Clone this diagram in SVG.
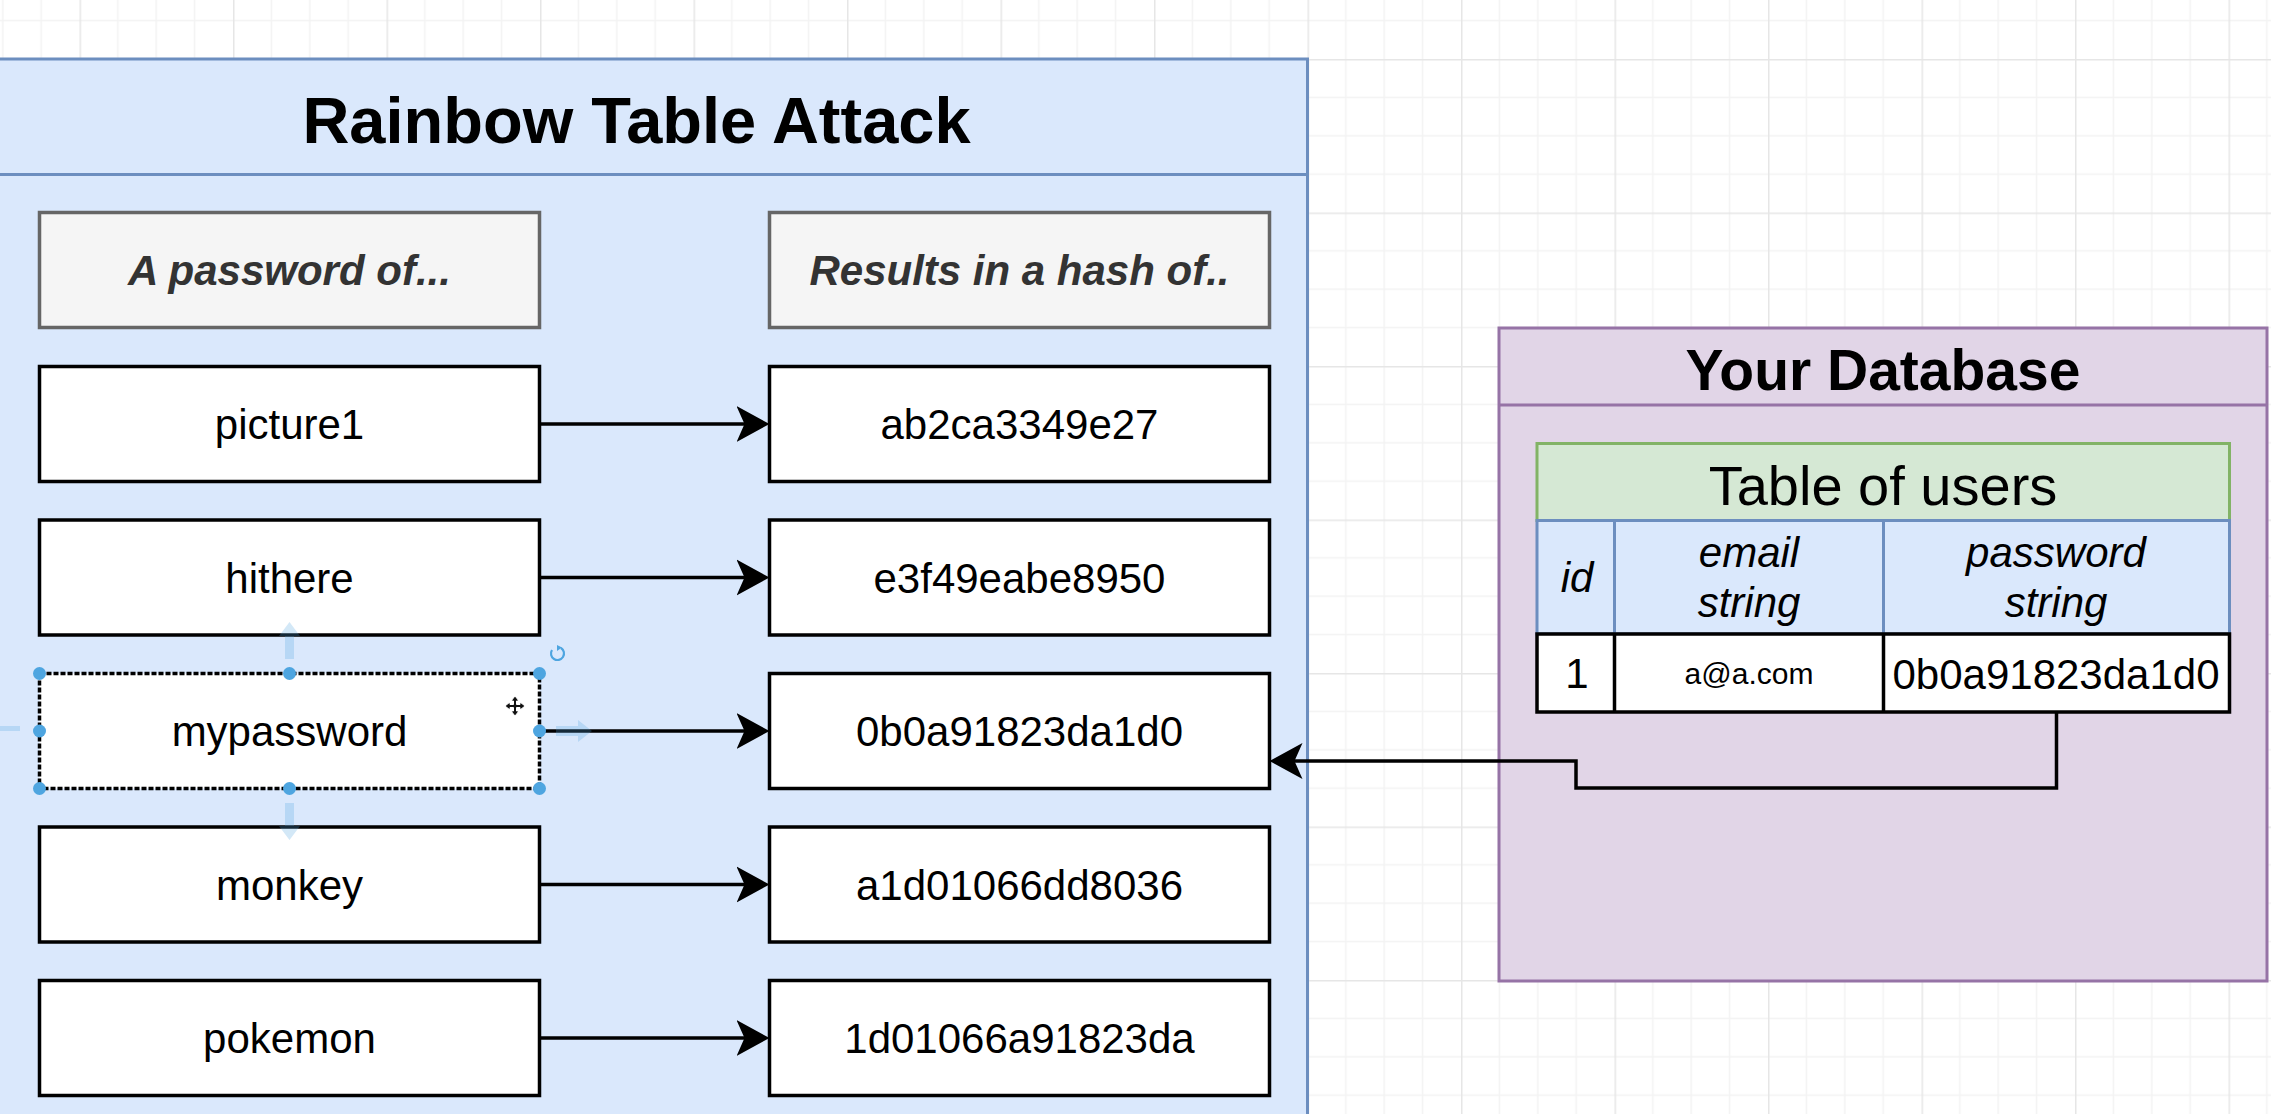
<svg xmlns="http://www.w3.org/2000/svg" width="2271" height="1114" viewBox="0 0 2271 1114">
<style>
  text { font-family: "Liberation Sans", Arial, Helvetica, sans-serif; text-anchor: middle; fill: #000; }
  .title { font-size: 65px; font-weight: bold; }
  .dbtitle { font-size: 57px; font-weight: bold; }
  .hdr { font-size: 42px; font-weight: bold; font-style: italic; fill: #333; }
  .t { font-size: 42px; }
  .tt { font-size: 56px; }
  .col { font-size: 42px; font-style: italic; }
  .small { font-size: 30px; }
  .box { fill: #ffffff; stroke: #000; stroke-width: 3.5; }
  .hbox { fill: #f5f5f5; stroke: #666; stroke-width: 3.5; }
  .blue { fill: #dae8fc; stroke: #6c8ebf; stroke-width: 3; }
  .purple { fill: #e1d5e7; stroke: #9673a6; stroke-width: 3; }
  .green { fill: #d5e8d4; stroke: #82b366; stroke-width: 3; }
  .edge { fill: none; stroke: #000; stroke-width: 3.5; marker-end: url(#arr); }
  .handle { fill: #4ea5e0; }
  .hint { fill: #4ea5e0; opacity: 0.25; }
</style>
<defs>
  <pattern id="grid" x="79.5" y="59" width="153.5" height="153.5" patternUnits="userSpaceOnUse">
    <path d="M38.375 0V153.5M76.75 0V153.5M115.125 0V153.5M0 38.375H153.5M0 76.75H153.5M0 115.125H153.5" stroke="#f3f3f3" stroke-width="1.5" fill="none"/>
    <path d="M0.75 0V153.5M0 0.75H153.5" stroke="#e6e6e6" stroke-width="1.5" fill="none"/>
  </pattern>
  <marker id="arr" markerUnits="userSpaceOnUse" markerWidth="35" markerHeight="38" viewBox="0 0 35 38" refX="24" refY="19" orient="auto">
    <path d="M0,1 L33,19 L0,37 L8,19 Z" fill="#000"/>
  </marker>
</defs>

<rect x="0" y="0" width="2271" height="1114" fill="#ffffff"/>
<rect x="0" y="0" width="2271" height="1114" fill="url(#grid)"/>

<g id="rainbow-container">
  <rect class="blue" x="-34" y="59" width="1341.5" height="1080"/>
  <line x1="-34" y1="174.5" x2="1307.5" y2="174.5" stroke="#6c8ebf" stroke-width="3"/>
  <text class="title" x="636.5" y="143">Rainbow Table Attack</text>
</g>

<g id="header-password">
  <rect class="hbox" x="39.5" y="212.5" width="500" height="115"/>
  <text class="hdr" x="289.5" y="285">A password of...</text>
</g>
<g id="header-hash">
  <rect class="hbox" x="769.5" y="212.5" width="500" height="115"/>
  <text class="hdr" x="1019.5" y="285">Results in a hash of..</text>
</g>

<g id="pw-picture1">
  <rect class="box" x="39.5" y="366.5" width="500" height="115"/>
  <text class="t" x="289.5" y="439">picture1</text>
</g>
<g id="hash-1">
  <rect class="box" x="769.5" y="366.5" width="500" height="115"/>
  <text class="t" x="1019.5" y="439">ab2ca3349e27</text>
</g>

<g id="pw-hithere">
  <rect class="box" x="39.5" y="520" width="500" height="115"/>
  <text class="t" x="289.5" y="592.5">hithere</text>
</g>
<g id="hash-2">
  <rect class="box" x="769.5" y="520" width="500" height="115"/>
  <text class="t" x="1019.5" y="592.5">e3f49eabe8950</text>
</g>

<g id="pw-mypassword">
  <rect class="box" x="39.5" y="673.5" width="500" height="115" stroke-dasharray="5 2"/>
  <text class="t" x="289.5" y="746">mypassword</text>
</g>
<g id="hash-3">
  <rect class="box" x="769.5" y="673.5" width="500" height="115"/>
  <text class="t" x="1019.5" y="746">0b0a91823da1d0</text>
</g>

<g id="pw-monkey">
  <rect class="box" x="39.5" y="827" width="500" height="115"/>
  <text class="t" x="289.5" y="899.5">monkey</text>
</g>
<g id="hash-4">
  <rect class="box" x="769.5" y="827" width="500" height="115"/>
  <text class="t" x="1019.5" y="899.5">a1d01066dd8036</text>
</g>

<g id="pw-pokemon">
  <rect class="box" x="39.5" y="980.5" width="500" height="115"/>
  <text class="t" x="289.5" y="1053">pokemon</text>
</g>
<g id="hash-5">
  <rect class="box" x="769.5" y="980.5" width="500" height="115"/>
  <text class="t" x="1019.5" y="1053">1d01066a91823da</text>
</g>

<g id="database-container">
  <rect class="purple" x="1499" y="328" width="768" height="653"/>
  <line x1="1499" y1="405" x2="2267" y2="405" stroke="#9673a6" stroke-width="3"/>
  <text class="dbtitle" x="1883" y="390">Your Database</text>
</g>

<g id="users-table">
  <rect class="green" x="1537" y="443.5" width="692.5" height="77"/>
  <text class="tt" x="1883" y="505">Table of users</text>
  <rect class="blue" x="1537" y="520.5" width="692.5" height="113.5"/>
  <line x1="1614.5" y1="520.5" x2="1614.5" y2="634" stroke="#6c8ebf" stroke-width="3"/>
  <line x1="1883.5" y1="520.5" x2="1883.5" y2="634" stroke="#6c8ebf" stroke-width="3"/>
  <text class="col" x="1577" y="592">id</text>
  <text class="col" x="1749" y="567">email</text>
  <text class="col" x="1749" y="617">string</text>
  <text class="col" x="2056" y="567">password</text>
  <text class="col" x="2056" y="617">string</text>
  <rect class="box" x="1537" y="634" width="692.5" height="78"/>
  <line x1="1614.5" y1="634" x2="1614.5" y2="712" stroke="#000" stroke-width="3.5"/>
  <line x1="1883.5" y1="634" x2="1883.5" y2="712" stroke="#000" stroke-width="3.5"/>
  <text class="t" x="1577" y="688">1</text>
  <text class="small" x="1749" y="684">a@a.com</text>
  <text class="t" x="2056" y="689">0b0a91823da1d0</text>
</g>

<g id="connectors">
  <line class="edge" x1="539.5" y1="424" x2="760.5" y2="424"/>
  <line class="edge" x1="539.5" y1="577.5" x2="760.5" y2="577.5"/>
  <line class="edge" x1="539.5" y1="731" x2="760.5" y2="731"/>
  <line class="edge" x1="539.5" y1="884.5" x2="760.5" y2="884.5"/>
  <line class="edge" x1="539.5" y1="1038" x2="760.5" y2="1038"/>
  <path class="edge" d="M2056.5 712 V788 H1576 V761 H1278.5"/>
</g>

<g id="selection">
  <path class="hint" d="M289.5 622 L279 636 H285 V659 H294 V636 H300 Z"/>
  <path class="hint" d="M289.5 840 L279 826 H285 V803 H294 V826 H300 Z"/>
  <path class="hint" d="M0 726 H20 V731 H0 Z"/>
  <path class="hint" d="M592 731 L578 720 V726 H556 V736 H578 V742 Z"/>
  <circle class="handle" cx="39.5" cy="673.5" r="6.5"/>
  <circle class="handle" cx="289.5" cy="673.5" r="6.5"/>
  <circle class="handle" cx="539.5" cy="673.5" r="6.5"/>
  <circle class="handle" cx="39.5" cy="731" r="6.5"/>
  <circle class="handle" cx="539.5" cy="731" r="6.5"/>
  <circle class="handle" cx="39.5" cy="788.5" r="6.5"/>
  <circle class="handle" cx="289.5" cy="788.5" r="6.5"/>
  <circle class="handle" cx="539.5" cy="788.5" r="6.5"/>
  <path d="M561 648 A6.5 6.5 0 1 1 552 650" fill="none" stroke="#4ea5e0" stroke-width="2.2"/>
  <path d="M557 645 L562 647.5 L557 651 Z" fill="#4ea5e0"/>
  <path d="M515 696 L519 701 H516.5 V704.5 H520 V702 L525 706 L520 710 V707.5 H516.5 V711 H519 L515 716 L511 711 H513.5 V707.5 H510 V710 L505 706 L510 702 V704.5 H513.5 V701 H511 Z" fill="#111" stroke="#fff" stroke-width="1"/>
</g>
</svg>
